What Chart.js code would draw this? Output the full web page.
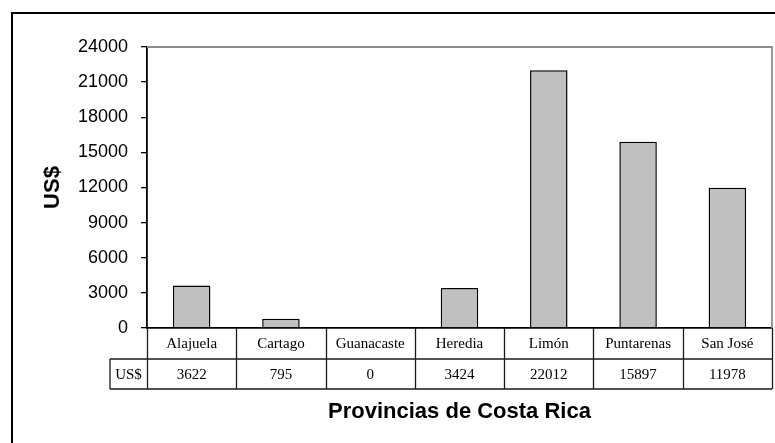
<!DOCTYPE html>
<html>
<head>
<meta charset="utf-8">
<script src="https://cdn.jsdelivr.net/npm/chart.js@4/dist/chart.umd.min.js"></script>
<style>
  html, body { margin: 0; padding: 0; background: #fff; }
  canvas { display: block; }
</style>
</head>
<body>
<canvas id="chart" width="775" height="443"></canvas>
<script>
const provincias = ["Alajuela", "Cartago", "Guanacaste", "Heredia", "Limón", "Puntarenas", "San José"];
const montos = [3622, 795, 0, 3424, 22012, 15897, 11978];
const serieNombre = "US$";
const yMin = 0;
const yMax = 24000;
const yStep = 3000;
const tituloX = "Provincias de Costa Rica";
const tituloY = "US$";

const sansFont = "'Liberation Sans', Arial, sans-serif";
const serifFont = "'Liberation Serif', 'Times New Roman', serif";

// frame, plot border, data table and x title (Excel look)
const excelPlugin = {
  id: "excelLook",
  beforeDraw(chart) {
    const ctx = chart.ctx;
    ctx.save();
    ctx.fillStyle = "#fff";
    ctx.fillRect(0, 0, chart.width, chart.height);
    ctx.strokeStyle = "#000";
    ctx.lineWidth = 2;
    ctx.strokeRect(12, 13, 820, 500);
    ctx.restore();
  },
  beforeDatasetsDraw(chart) {
    const { ctx, chartArea } = chart;
    ctx.save();
    ctx.strokeStyle = "#8c8c8c";
    ctx.lineWidth = 1.8;
    ctx.beginPath();
    ctx.moveTo(chartArea.left, chartArea.top);
    ctx.lineTo(chartArea.right, chartArea.top);
    ctx.lineTo(chartArea.right, chartArea.bottom);
    ctx.stroke();
    ctx.restore();
  },
  afterDraw(chart) {
    const { ctx, chartArea } = chart;
    const x = chart.scales.x;
    const n = provincias.length;
    const step = (x.right - x.left) / n;
    const top = chartArea.bottom;
    const row1 = top + 31;
    const row2 = row1 + 30;
    const labelLeft = 110;

    ctx.save();
    ctx.strokeStyle = "#1a1a1a";
    ctx.lineWidth = 1.3;
    ctx.beginPath();
    ctx.moveTo(labelLeft, row1);
    ctx.lineTo(x.right, row1);
    ctx.moveTo(labelLeft, row2);
    ctx.lineTo(x.right, row2);
    ctx.moveTo(labelLeft, row1);
    ctx.lineTo(labelLeft, row2);
    for (let i = 0; i <= n; i++) {
      const bx = Math.round(x.left + i * step) + 0.5;
      ctx.moveTo(bx, top);
      ctx.lineTo(bx, row2);
    }
    ctx.stroke();

    ctx.fillStyle = "#000";
    ctx.font = "15px " + serifFont;
    ctx.textAlign = "center";
    ctx.textBaseline = "middle";
    provincias.forEach((p, i) => {
      const cx = x.getPixelForValue(i);
      ctx.fillText(p, cx, (top + row1) / 2 + 1);
      ctx.fillText(String(montos[i]), cx, (row1 + row2) / 2 + 1);
    });
    ctx.fillText(serieNombre, (labelLeft + x.left) / 2, (row1 + row2) / 2 + 1);

    ctx.font = "bold 22px " + sansFont;
    ctx.textBaseline = "alphabetic";
    ctx.fillText(tituloX, (chartArea.left + chartArea.right) / 2, 418);
    ctx.restore();
  }
};

function renderChart() {
  const canvas = document.getElementById("chart");
  const ctx = canvas.getContext("2d");

  new Chart(ctx, {
    type: "bar",
    data: {
      labels: provincias,
      datasets: [{
        label: serieNombre,
        data: montos,
        backgroundColor: "#c0c0c0",
        borderColor: "#000",
        borderWidth: 1.5,
        barPercentage: 0.42,
        categoryPercentage: 1
      }]
    },
    options: {
      responsive: false,
      animation: false,
      layout: {
        padding: { left: 0, top: 47, right: 3, bottom: 115 }
      },
      plugins: {
        legend: { display: false },
        tooltip: { enabled: false }
      },
      scales: {
        x: {
          afterFit: function (scale) { scale.height = 0; },
          ticks: { display: false },
          grid: { display: false },
          border: { display: true, color: "#000", width: 1.8 }
        },
        y: {
          min: yMin,
          max: yMax,
          afterFit: function (scale) { scale.width = 147; },
          ticks: {
            stepSize: yStep,
            padding: 13,
            color: "#000",
            font: { family: sansFont, size: 18 },
            callback: function (value) { return String(value); }
          },
          grid: {
            drawOnChartArea: false,
            drawTicks: true,
            tickLength: 6,
            color: "#000",
            lineWidth: 1.3
          },
          border: { display: true, color: "#000", width: 1.8 },
          title: {
            display: true,
            text: tituloY,
            color: "#000",
            padding: { top: 40, bottom: 0 },
            font: { family: sansFont, size: 22, weight: "bold" }
          }
        }
      }
    },
    plugins: [excelPlugin]
  });
}

document.addEventListener("DOMContentLoaded", renderChart);
</script>
</body>
</html>
